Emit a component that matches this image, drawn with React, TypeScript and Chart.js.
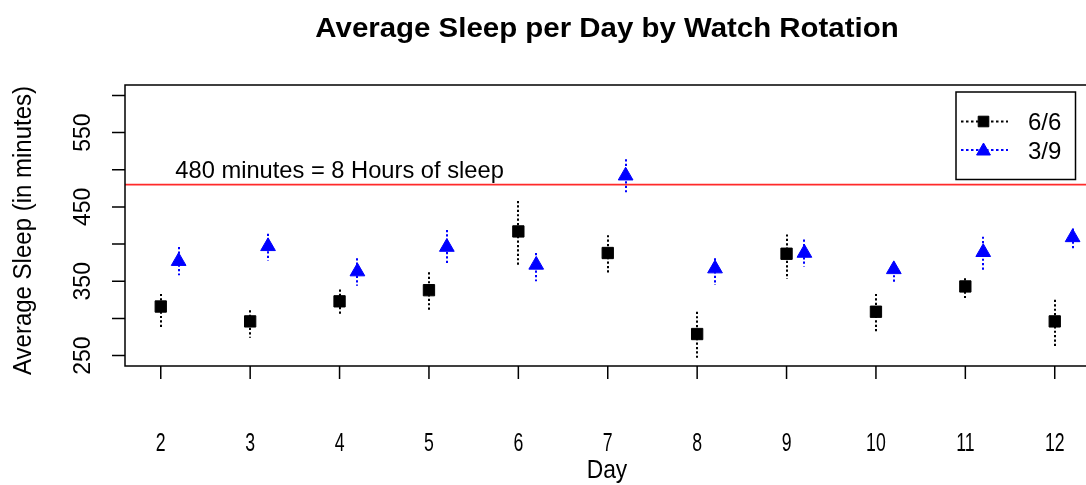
import React, { useEffect, useRef } from 'react';
import { Chart, registerables } from 'chart.js';

Chart.register(...registerables);

// ---------- data ----------
const days = [2, 3, 4, 5, 6, 7, 8, 9, 10, 11, 12];
const offset39 = 0.2;
const sleep66 = [316, 296, 323, 338, 417, 388, 279, 387, 309, 343, 296];
const sleep66Low = [288, 274, 304, 309, 371, 359, 247, 353, 280, 326, 263];
const sleep66High = [333, 311, 339, 362, 458, 412, 309, 413, 333, 354, 325];
const sleep39 = [377, 397, 363, 396, 372, 492, 367, 388, 366, 389, 409];
const sleep39Low = [358, 378, 344, 373, 350, 469, 345, 370, 349, 365, 392];
const sleep39High = [396, 414, 381, 419, 388, 514, 381, 406, 376, 410, 421];

const xTicks = [2, 3, 4, 5, 6, 7, 8, 9, 10, 11, 12];
const yTicks = [250, 300, 350, 400, 450, 500, 550, 600];
const yTickLabels = ['250', '', '350', '', '450', '', '550', ''];
const xRange = [1.6, 12.4];
const yRange = [236, 614];

const referenceLine = 480;
const referenceLabel = '480 minutes = 8 Hours of sleep';
const referenceLabelX = 4;
const referenceLabelY = 500;

const titleText = 'Average Sleep per Day by Watch Rotation';
const xTitle = 'Day';
const yTitle = 'Average Sleep (in minutes)';
const seriesNames = ['6/6', '3/9'];
const seriesColors = ['#000000', '#0000ff'];

// ---------- layout ----------
const W = 1100;
const H = 485;
const AREA = { left: 125, top: 85, right: 1094, bottom: 366 };
const FONT = '"Liberation Sans", Arial, Helvetica, sans-serif';

function drawText(
  ctx: CanvasRenderingContext2D,
  s: string,
  x: number,
  y: number,
  size: number,
  opts: { bold?: boolean; align?: CanvasTextAlign; rotate?: boolean; sx?: number; sy?: number } = {}
) {
  ctx.save();
  ctx.translate(x, y);
  if (opts.rotate) ctx.rotate(-Math.PI / 2);
  ctx.scale(opts.sx ?? 1, opts.sy ?? 1);
  ctx.font = `${opts.bold ? 'bold ' : ''}${size}px ${FONT}`;
  ctx.textAlign = opts.align ?? 'center';
  ctx.textBaseline = 'alphabetic';
  ctx.fillStyle = '#000';
  ctx.fillText(s, 0, 0);
  ctx.restore();
}

function rectMarker(ctx: CanvasRenderingContext2D, x: number, y: number, r: number, color: string) {
  const s = Math.SQRT1_2 * r;
  ctx.fillStyle = color;
  ctx.strokeStyle = color;
  ctx.lineWidth = 1;
  ctx.setLineDash([]);
  ctx.beginPath();
  ctx.rect(x - s, y - s, 2 * s, 2 * s);
  ctx.fill();
  ctx.stroke();
}

function triMarker(ctx: CanvasRenderingContext2D, x: number, y: number, r: number, color: string) {
  ctx.fillStyle = color;
  ctx.strokeStyle = color;
  ctx.lineWidth = 1;
  ctx.setLineDash([]);
  ctx.beginPath();
  let rad = 0;
  for (let i = 0; i < 3; i++) {
    const px = x + Math.sin(rad) * r;
    const py = y - Math.cos(rad) * r;
    if (i === 0) ctx.moveTo(px, py);
    else ctx.lineTo(px, py);
    rad += (2 * Math.PI) / 3;
  }
  ctx.closePath();
  ctx.fill();
  ctx.stroke();
}

const rPlot = {
  id: 'rplot',
  beforeDatasetsDraw(chart: any) {
    const { ctx, chartArea: a, scales } = chart;
    const x = scales.x;
    const y = scales.y;
    ctx.save();
    // reference line
    const yr = y.getPixelForValue(referenceLine);
    ctx.strokeStyle = '#ff2a2a';
    ctx.lineWidth = 1.6;
    ctx.beginPath();
    ctx.moveTo(a.left, yr);
    ctx.lineTo(a.right, yr);
    ctx.stroke();
    // error bars
    const groups: [number[], number[], string, number][] = [
      [sleep66Low, sleep66High, seriesColors[0], 0],
      [sleep39Low, sleep39High, seriesColors[1], offset39],
    ];
    groups.forEach(([lo, hi, color, off]) => {
      ctx.strokeStyle = color;
      ctx.lineWidth = 2;
      ctx.setLineDash([2.2, 2.2]);
      days.forEach((d, i) => {
        const px = Math.round(x.getPixelForValue(d + off));
        ctx.beginPath();
        ctx.moveTo(px, y.getPixelForValue(hi[i]));
        ctx.lineTo(px, y.getPixelForValue(lo[i]));
        ctx.stroke();
      });
    });
    ctx.restore();
  },
  afterDraw(chart: any) {
    const { ctx, chartArea: a, scales } = chart;
    const x = scales.x;
    const y = scales.y;
    ctx.save();
    ctx.setLineDash([]);
    ctx.strokeStyle = '#000';
    ctx.lineWidth = 1.5;
    // box
    ctx.strokeRect(a.left, a.top, a.right - a.left, a.bottom - a.top);
    // ticks
    const tl = 13;
    ctx.beginPath();
    yTicks.forEach((v) => {
      const py = y.getPixelForValue(v);
      ctx.moveTo(a.left - tl, py);
      ctx.lineTo(a.left, py);
    });
    xTicks.forEach((v) => {
      const px = x.getPixelForValue(v);
      ctx.moveTo(px, a.bottom);
      ctx.lineTo(px, a.bottom + tl);
    });
    ctx.stroke();
    // y tick labels (rotated)
    yTicks.forEach((v, i) => {
      if (!yTickLabels[i]) return;
      drawText(ctx, yTickLabels[i], 90, y.getPixelForValue(v), 23, { rotate: true, sy: 1.08 });
    });
    // x tick labels
    xTicks.forEach((v) => {
      drawText(ctx, String(v), x.getPixelForValue(v), 450.5, 26, { sx: 0.68 });
    });
    // axis titles
    drawText(ctx, xTitle, 607, 478, 26.5, { sx: 0.86 });
    drawText(ctx, yTitle, 30.5, (a.top + a.bottom) / 2 + 5, 24, { rotate: true, sy: 1.05 });
    // title
    drawText(ctx, titleText, 607, 37, 27, { bold: true, sx: 1.09 });
    // annotation
    drawText(
      ctx,
      referenceLabel,
      x.getPixelForValue(referenceLabelX),
      y.getPixelForValue(referenceLabelY) + 8.5,
      23.7
    );
    // legend
    const lx0 = 956, ly0 = 92, lx1 = 1075.5, ly1 = 179.5;
    ctx.fillStyle = '#fff';
    ctx.fillRect(lx0, ly0, lx1 - lx0, ly1 - ly0);
    ctx.strokeStyle = '#000';
    ctx.lineWidth = 1.5;
    ctx.setLineDash([]);
    ctx.strokeRect(lx0, ly0, lx1 - lx0, ly1 - ly0);
    const rows = [121.5, 150];
    rows.forEach((ry, i) => {
      ctx.strokeStyle = seriesColors[i];
      ctx.lineWidth = 1.8;
      ctx.setLineDash([2.5, 2.5]);
      ctx.beginPath();
      ctx.moveTo(961, ry);
      ctx.lineTo(1008, ry);
      ctx.stroke();
      if (i === 0) rectMarker(ctx, 983.5, ry, 7.5, seriesColors[0]);
      else triMarker(ctx, 983.5, ry + 1, 8, seriesColors[1]);
      drawText(ctx, seriesNames[i], 1028, ry + 8.6, 24, { align: 'left' });
    });
    ctx.restore();
  },
};

export default function App() {
  const ref = useRef<HTMLCanvasElement | null>(null);
  useEffect(() => {
    if (!ref.current) return;
    const chart = new Chart(ref.current, {
      type: 'scatter',
      data: {
        datasets: [
          {
            label: seriesNames[0],
            data: days.map((d, i) => ({ x: d, y: sleep66[i] })),
            pointStyle: 'rect',
            pointRadius: 8,
            backgroundColor: seriesColors[0],
            borderColor: seriesColors[0],
            borderWidth: 1,
          },
          {
            label: seriesNames[1],
            data: days.map((d, i) => ({ x: d + offset39, y: sleep39[i] })),
            pointStyle: 'triangle',
            pointRadius: 8.5,
            backgroundColor: seriesColors[1],
            borderColor: seriesColors[1],
            borderWidth: 1,
          },
        ],
      },
      options: {
        responsive: false,
        animation: false,
        devicePixelRatio: 1,
        layout: {
          padding: { left: AREA.left, top: AREA.top, right: W - AREA.right, bottom: H - AREA.bottom },
        },
        scales: {
          x: { type: 'linear', min: xRange[0], max: xRange[1], display: false },
          y: { type: 'linear', min: yRange[0], max: yRange[1], display: false },
        },
        plugins: {
          legend: { display: false },
          title: { display: false },
          tooltip: { enabled: false },
        },
      },
      plugins: [rPlot],
    });
    return () => chart.destroy();
  }, []);
  return (
    <div
      style={{
        position: 'fixed',
        left: 0,
        top: 0,
        width: 1086,
        height: 485,
        overflow: 'hidden',
        background: '#fff',
      }}
    >
      <canvas ref={ref} width={W} height={H} style={{ width: W, height: H, display: 'block' }} />
    </div>
  );
}
